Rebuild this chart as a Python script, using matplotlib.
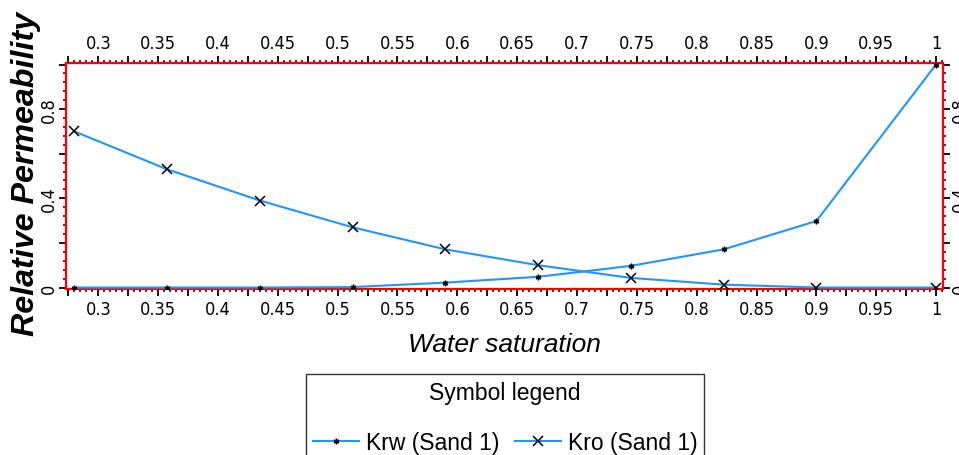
import matplotlib
matplotlib.use("Agg")
import matplotlib.pyplot as plt
from matplotlib.ticker import MultipleLocator, FuncFormatter
from matplotlib.lines import Line2D

sw = [0.28, 0.3575, 0.435, 0.5125, 0.59, 0.6675, 0.745, 0.8225, 0.9, 1.0]
krw = [0.0, 0.0, 0.0, 0.002, 0.022, 0.048, 0.097, 0.171, 0.298, 1.0]
kro = [0.70, 0.53, 0.39, 0.27, 0.171, 0.10, 0.043, 0.013, 0.0, 0.0]

line_color = "#1E96FF"
tick_font = dict(family="DejaVu Sans", stretch="condensed", size=13)

fig = plt.figure(figsize=(9.59, 4.56), dpi=100)
ax = fig.add_axes([0.0688, 0.364, 0.9145, 0.4956])

ax.plot(sw, krw, color=line_color, lw=1.5, marker=(6, 2, 0), ms=4,
        mec="black", mfc="black", mew=1.0, zorder=3)
ax.plot(sw, kro, color=line_color, lw=1.5, marker="x", ms=7,
        mec="black", mew=1.1, zorder=3)

ax.set_xlim(0.273, 1.0058)
ax.set_ylim(-0.0067, 1.0067)

for s in ax.spines.values():
    s.set_color("red")
    s.set_linewidth(1.6)

def xfmt(v, pos):
    k = round(v / 0.025)
    if k % 2:
        return ""
    return f"{v:.2f}".rstrip("0").rstrip(".")

def yfmt(v, pos):
    k = round(v / 0.2)
    if k % 2:
        return ""
    return f"{v:.1f}".rstrip("0").rstrip(".") if abs(v) > 1e-9 else "0"

ax.xaxis.set_major_locator(MultipleLocator(0.025))
ax.xaxis.set_minor_locator(MultipleLocator(0.005))
ax.xaxis.set_major_formatter(FuncFormatter(xfmt))
ax.yaxis.set_major_locator(MultipleLocator(0.2))
ax.yaxis.set_minor_locator(MultipleLocator(0.04))
ax.yaxis.set_major_formatter(FuncFormatter(yfmt))

ax.tick_params(axis="x", which="both", direction="out", top=True, bottom=True,
               labeltop=True, labelbottom=True, color="black")
ax.tick_params(axis="y", which="both", direction="out", left=True, right=True,
               labelleft=True, labelright=True, color="black")
ax.tick_params(which="major", length=5, width=1.3, pad=3)
ax.tick_params(axis="y", which="major", pad=1)
ax.tick_params(which="minor", length=2.5, width=1.1)

for lab in ax.get_xticklabels():
    lab.set_fontproperties(tick_font)
for lab in ax.get_yticklabels():
    lab.set_fontproperties(tick_font)
    lab.set_rotation(90)
    lab.set_va("center")

ax.set_xlabel("Water saturation", fontsize=19, fontstyle="italic",
              family="Liberation Sans", labelpad=10)
ax.set_ylabel("Relative Permeability", fontsize=23.2, fontstyle="italic",
              fontweight="bold", family="Liberation Sans")
ax.yaxis.set_label_coords(-0.029, 0.515)

handles = [
    Line2D([], [], color=line_color, lw=1.5, marker=(6, 2, 0), ms=4,
           mec="black", mfc="black", mew=1.0),
    Line2D([], [], color=line_color, lw=1.5, marker="x", ms=7,
           mec="black", mew=1.1),
]
leg = fig.legend(handles, ["Krw (Sand 1)", "Kro (Sand 1)"], ncol=2,
                 loc="upper left", bbox_to_anchor=(0.319, 0.178),
                 frameon=True, fancybox=False, title="Symbol legend",
                 prop={"family": "Liberation Sans", "size": 16.5},
                 handlelength=2.0, handletextpad=0.3, columnspacing=0.7,
                 borderpad=0.3, labelspacing=1.2, borderaxespad=0.0)
leg.get_title().set_fontfamily("Liberation Sans")
leg.get_title().set_fontsize(16.5)
leg.get_frame().set_edgecolor("black")
leg.get_frame().set_linewidth(1.0)

fig.savefig("out.png", dpi=100)
